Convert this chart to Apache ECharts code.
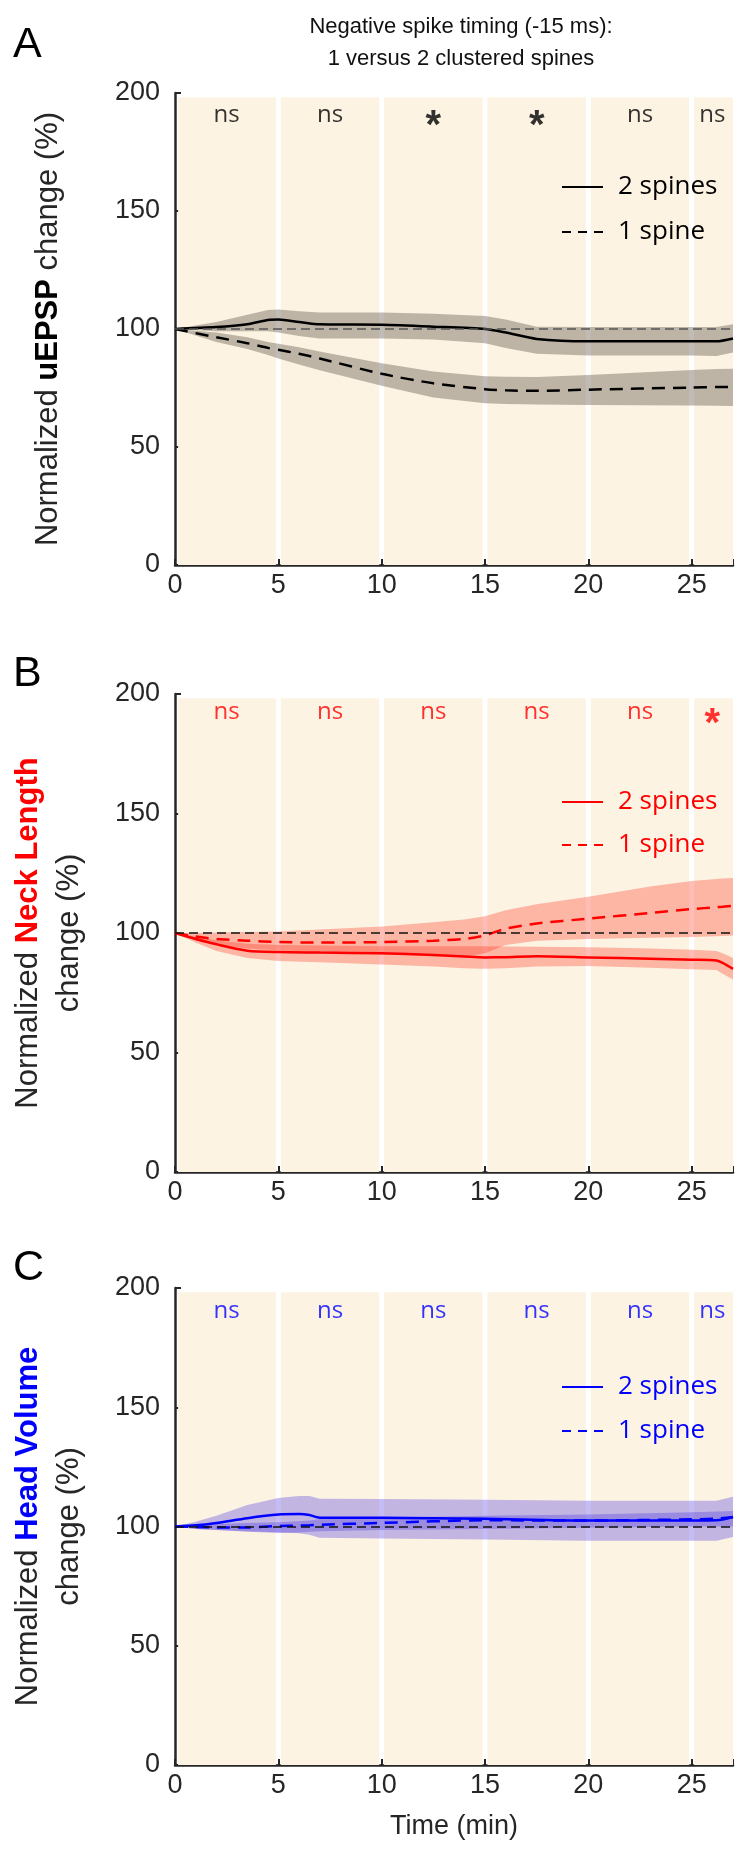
<!DOCTYPE html>
<html>
<head>
<meta charset="utf-8">
<script src="https://cdn.jsdelivr.net/npm/echarts@6/dist/echarts.min.js"></script>
<style>
  html, body { margin: 0; padding: 0; background: #fff; }
  #chart { width: 736px; height: 1852px; }
</style>
</head>
<body>
<div id="chart"></div>
<script>
// ---- Panel A: uEPSP ----
const timeA = [0, 2, 3.5, 4.5, 5, 6, 7, 10, 12.5, 15, 16, 17.5, 20, 25, 26.2, 27];
const uepsp2Mean = [100, 100.8, 102, 103.8, 104, 103, 102, 101.8, 101, 100, 98.5, 95.8, 94.8, 94.8, 94.8, 96];
const uepsp2Hi   = [100, 103, 106, 108, 108.3, 107.5, 107, 107, 106.5, 105.5, 104, 101, 100.8, 100.8, 100.8, 102];
const uepsp2Lo   = [100, 99, 99, 99, 98.5, 97, 96, 96, 95.5, 94, 92, 89.5, 88.8, 88.8, 88.6, 90];
const uepsp1Mean = [100, 96.5, 94, 92, 91.2, 89.5, 87.5, 81, 77, 74.5, 74, 73.8, 74.3, 75.2, 75.4, 75.5];
const uepsp1Hi   = [100, 98.5, 96.5, 94.5, 93.8, 92.3, 90.5, 85.5, 82, 80, 79.8, 79.7, 80.5, 82.6, 83, 83.2];
const uepsp1Lo   = [100, 94.5, 91.5, 89, 87.5, 85, 82.5, 76, 71, 68.5, 68.2, 68, 67.8, 67.6, 67.5, 67.4];
const sigA = ['ns', 'ns', '*', '*', 'ns', 'ns'];

// ---- Panel B: neck length ----
const timeB = [0, 1, 2, 3.5, 5, 7, 10, 12.5, 14, 15, 16, 17.5, 20, 23, 25, 26.2, 26.5, 27];
const neck2Mean = [100, 97.5, 95.3, 92.6, 92, 91.8, 91.5, 90.8, 90.2, 89.8, 89.9, 90.3, 89.8, 89.2, 88.8, 88.5, 87.5, 85];
const neck2Hi   = [100, 98.5, 97, 95.5, 95, 94.8, 94.5, 94.5, 94.5, 94.5, 94.3, 94.2, 94, 93.5, 93, 92.5, 91.5, 89.5];
const neck2Lo   = [100, 96, 92.5, 89.5, 88.3, 87.8, 86.8, 86, 85.3, 85, 85.3, 86, 86.2, 85.5, 84.8, 84.5, 83, 80.5];
const neck1Mean = [100, 98.5, 97.5, 96.8, 96.2, 96, 96.2, 96.8, 97.5, 99, 101.8, 104, 106, 108.4, 110, 110.8, 111, 111.4];
const neck1Hi   = [100, 100, 100.2, 100.4, 100.6, 101.5, 102.7, 104.5, 105.6, 107, 109.5, 112, 115.2, 119.5, 121.8, 122.6, 122.8, 123];
const neck1Lo   = [100, 97, 95, 93.5, 92.8, 92, 91, 90.4, 90.3, 91.5, 95, 96.8, 97.5, 98, 98.3, 98.6, 98.7, 99];
const sigB = ['ns', 'ns', 'ns', 'ns', 'ns', '*'];

// ---- Panel C: head volume ----
const timeC = [0, 1, 2, 3.5, 5, 6, 6.5, 7, 10, 15, 20, 25, 26.2, 27];
const head2Mean = [100, 100.5, 101.5, 103.5, 105, 105.2, 104.8, 103.7, 103.7, 103.2, 102.5, 102.5, 102.6, 104];
const head2Hi   = [100, 102, 104.5, 109, 112, 112.8, 112.8, 111.6, 111.5, 111.2, 110.8, 110.8, 110.8, 112.5];
const head2Lo   = [100, 99, 98.5, 98, 97.6, 97.2, 96.5, 95.3, 95, 94.5, 94, 94, 94, 95.6];
const head1Mean = [100, 99.8, 99.6, 99.6, 100.2, 100.4, 100.5, 100.7, 101.5, 102.6, 102.5, 103, 103.3, 104];
const head1Hi   = [100, 100.5, 101, 101.5, 101.8, 102.2, 102.5, 103, 103.7, 104.5, 105, 106, 106.3, 106.5];
const head1Lo   = [100, 99, 98.5, 97.8, 97.3, 97.5, 97.8, 98, 98.5, 99, 99.5, 100, 100, 100];
const sigC = ['ns', 'ns', 'ns', 'ns', 'ns', 'ns'];

// analysis windows (min) and the tick labels
const windowEdges = [0, 5, 10, 15, 20, 25, 27];
const xTicks = [0, 5, 10, 15, 20, 25];
const yTicks = [0, 50, 100, 150, 200];
const baseline = 100;

const sans = "'Liberation Sans', Arial, sans-serif";
const humanist = "'Open Sans', 'Noto Sans', sans-serif";
const axisColor = '#262626';

const panels = [
  { key: 'A', top: 93, height: 472, color: '#000000', band: 'rgba(105,92,80,0.42)', refColor: '#555555',
    t: timeA, m2: uepsp2Mean, h2: uepsp2Hi, l2: uepsp2Lo, m1: uepsp1Mean, h1: uepsp1Hi, l1: uepsp1Lo,
    sig: sigA, sigY: 189.5, name: '{n|Normalized }{b|uEPSP}{n| change (%)}', nameGap: 106,
    legendTop: 167, legendGap: 15, letterTop: 19 },
  { key: 'B', top: 694, height: 478, color: '#ff0000', band: 'rgba(255,55,35,0.33)', refColor: '#111111',
    t: timeB, m2: neck2Mean, h2: neck2Hi, l2: neck2Lo, m1: neck1Mean, h1: neck1Hi, l1: neck1Lo,
    sig: sigB, sigY: 191, name: '{n|Normalized }{b|Neck Length}\n{n|change (%)}', nameGap: 85,
    legendTop: 782, legendGap: 13, letterTop: 648 },
  { key: 'C', top: 1288, height: 477, color: '#0000ff', band: 'rgba(70,50,225,0.32)', refColor: '#111111',
    t: timeC, m2: head2Mean, h2: head2Hi, l2: head2Lo, m1: head1Mean, h1: head1Hi, l1: head1Lo,
    sig: sigC, sigY: 189, name: '{n|Normalized }{b|Head Volume}\n{n|change (%)}', nameGap: 85,
    legendTop: 1367, legendGap: 14, letterTop: 1242 }
];

const grids = [], xAxes = [], yAxes = [], series = [], legends = [], titles = [];

// filled polygon between a lower and an upper bound, in data coordinates
function bandSeries(i, t, lo, hi, color) {
  return {
    type: 'custom', xAxisIndex: i, yAxisIndex: i, z: 1, silent: true,
    data: [[t[0], lo[0]]],
    renderItem: function (params, api) {
      const pts = [];
      for (let k = 0; k < t.length; k++) pts.push(api.coord([t[k], hi[k]]));
      for (let k = t.length - 1; k >= 0; k--) pts.push(api.coord([t[k], lo[k]]));
      return { type: 'polygon', shape: { points: pts }, style: { fill: color, stroke: null } };
    }
  };
}

panels.forEach(function (p, i) {
  grids.push({ left: 175, right: 0, top: p.top, height: p.height, containLabel: false });
  xAxes.push({
    gridIndex: i, type: 'value', min: 0, max: 27, interval: 5,
    axisLine: { show: true, onZero: false, lineStyle: { color: axisColor, width: 2.5 } },
    axisTick: { show: true, inside: true, length: 6, lineStyle: { color: axisColor, width: 2 } },
    axisLabel: { color: axisColor, fontFamily: sans, fontSize: 27, margin: 7,
      formatter: function (v) { return xTicks.indexOf(v) >= 0 ? String(v) : ''; } },
    splitLine: { show: false },
    name: i === 2 ? 'Time (min)' : '', nameLocation: 'middle', nameGap: 48,
    nameTextStyle: { color: axisColor, fontFamily: sans, fontSize: 27 }
  });
  yAxes.push({
    gridIndex: i, type: 'value', min: yTicks[0], max: yTicks[yTicks.length - 1], interval: 50,
    axisLine: { show: true, onZero: false, lineStyle: { color: axisColor, width: 2.5 } },
    axisTick: { show: true, inside: true, length: 6, lineStyle: { color: axisColor, width: 2 } },
    axisLabel: { color: axisColor, fontFamily: sans, fontSize: 27, margin: 15 },
    splitLine: { show: false },
    name: p.name, nameLocation: 'middle', nameRotate: 90, nameGap: p.nameGap,
    nameTextStyle: {
      rich: {
        n: { fontFamily: sans, fontSize: 31, color: '#262626', lineHeight: 41 },
        b: { fontFamily: sans, fontSize: 31, fontWeight: 'bold', color: i === 0 ? '#000000' : p.color, lineHeight: 41 }
      }
    }
  });

  // shaded analysis windows
  const areas = [];
  for (let k = 0; k < windowEdges.length - 1; k++) {
    const a = windowEdges[k] + (k === 0 ? 0.15 : 0.12);
    const b = windowEdges[k + 1] - (k === windowEdges.length - 2 ? 0 : 0.12);
    areas.push([{ xAxis: a, yAxis: 0 }, { xAxis: b, yAxis: 198.2 }]);
  }
  series.push({
    type: 'line', xAxisIndex: i, yAxisIndex: i, data: [], z: 0, silent: true,
    markArea: { silent: true, itemStyle: { color: '#fcf3e3' }, data: areas }
  });

  series.push(bandSeries(i, p.t, p.l1, p.h1, p.band));
  series.push(bandSeries(i, p.t, p.l2, p.h2, p.band));

  // baseline at 100 %
  series.push({
    type: 'line', xAxisIndex: i, yAxisIndex: i, data: [], z: 2, silent: true,
    markLine: { silent: true, symbol: 'none', label: { show: false },
      lineStyle: { color: p.refColor, type: [9, 5], width: 1.6 },
      data: [{ yAxis: baseline }] }
  });

  const pairs = function (t, v) { return t.map(function (x, k) { return [x, v[k]]; }); };
  series.push({
    type: 'line', name: p.key + '|2 spines', xAxisIndex: i, yAxisIndex: i, z: 4,
    data: pairs(p.t, p.m2), symbol: 'none', smooth: 0.25,
    lineStyle: { color: p.color, width: 2.5, type: 'solid' }, itemStyle: { color: p.color }
  });
  series.push({
    type: 'line', name: p.key + '|1 spine', xAxisIndex: i, yAxisIndex: i, z: 3,
    data: pairs(p.t, p.m1), symbol: 'none', smooth: 0.25,
    lineStyle: { color: p.color, width: 2.5, type: [13, 8] }, itemStyle: { color: p.color }
  });

  // significance marks per window
  const centers = [];
  for (let k = 0; k < windowEdges.length - 1; k++) centers.push((windowEdges[k] + windowEdges[k + 1]) / 2);
  series.push({
    type: 'scatter', xAxisIndex: i, yAxisIndex: i, z: 5, silent: true, symbolSize: 0,
    data: p.sig.map(function (s, k) {
      const star = s === '*';
      return {
        value: [centers[k], p.sigY], name: s,
        label: {
          show: true, position: 'inside', formatter: s, color: p.color,
          fontFamily: star ? sans : humanist, fontSize: star ? 40 : 24,
          fontWeight: star ? 'bold' : 'normal', offset: star ? [0, 9] : [0, -3]
        }
      };
    })
  });

  legends.push({
    data: [
      { name: p.key + '|2 spines' },
      { name: p.key + '|1 spine', lineStyle: { type: [9, 7] } }
    ],
    formatter: function (n) { return n.split('|')[1]; },
    orient: 'vertical', left: 556, top: p.legendTop, itemWidth: 41, itemHeight: 14, itemGap: p.legendGap,
    selectedMode: false,
    itemStyle: { opacity: 0 },
    textStyle: { color: p.color, fontFamily: humanist, fontSize: 26, lineHeight: 30, padding: [0, 0, 0, 10] }
  });

  titles.push({
    text: p.key, left: 8, top: p.letterTop,
    textStyle: { fontFamily: sans, fontSize: 43, fontWeight: 'normal', color: '#000000' }
  });
});

const chart = echarts.init(document.getElementById('chart'), null, { renderer: 'canvas' });
chart.setOption({
  animation: false,
  backgroundColor: '#ffffff',
  title: titles,
  legend: legends,
  grid: grids,
  xAxis: xAxes,
  yAxis: yAxes,
  graphic: [{
    type: 'text', x: 461, y: 11, silent: true,
    style: {
      text: 'Negative spike timing (-15 ms):\n1 versus 2 clustered spines',
      align: 'center', verticalAlign: 'top',
      fontFamily: sans, fontSize: 22, lineHeight: 32, fill: '#111111'
    }
  }],
  series: series
});
</script>
</body>
</html>
